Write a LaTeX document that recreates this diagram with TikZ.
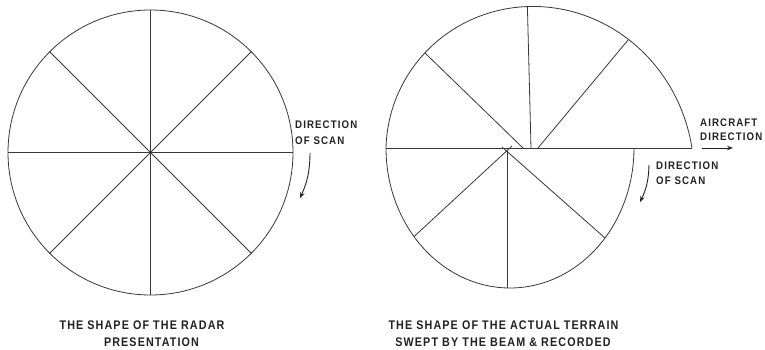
\documentclass[tikz,border=0pt]{standalone}
\usepackage{fontspec}
\setmainfont{Liberation Sans}
\newfontfamily\lblfont{Liberation Sans}[FakeStretch=0.88, LetterSpace=10]
\newfontfamily\capfont{Liberation Sans}[FakeStretch=0.86, LetterSpace=9]
\usetikzlibrary{arrows.meta}
\definecolor{ink}{HTML}{222222}
\definecolor{lineink}{HTML}{383838}
\begin{document}
\begin{tikzpicture}[x=1pt,y=-1pt,
  ln/.style={line width=0.8pt, draw=lineink},
  lbl/.style={font=\lblfont\bfseries\fontsize{11}{16}\selectfont, text=ink, align=left, inner sep=0pt},
  captext/.style={font=\capfont\bfseries\fontsize{12.5}{17}\selectfont, text=ink, inner sep=0pt},
  arr/.style={line width=0.9pt, draw=ink, -{Stealth[length=6pt,width=4.5pt]}},
  declare function={rr(\t)=134-2.5*((180-\t)/45)+3*((180-\t)/45)^2;}]
\useasboundingbox[fill=white] (0,0) rectangle (765,350);

% ---- left: radar presentation ----
\node[ln, circle, draw, minimum size=285pt, inner sep=0pt] (L) at (150.5,152.5) {};
\draw[ln] (L.north) -- (L.south);
\draw[ln] (L.east) -- (L.west);
\draw[ln] (L.45) -- (L.225);
\draw[ln] (L.135) -- (L.315);

\node[lbl, anchor=west] (ds1) at (295,133) {DIRECTION\\OF SCAN};
\coordinate (a1s) at (310,153);
\coordinate (a1e) at (300,198);
\draw[arr] (a1s) to[bend left=12] (a1e);

\node[captext] (cap1a) at (142,325) {THE SHAPE OF THE RADAR};
\node[captext] (cap1b) at (151.5,342) {PRESENTATION};

% ---- right: actual terrain ----
\draw[ln] plot[domain=180:0, samples=61, smooth] ({520+rr(\x)*cos(\x)},{148-rr(\x)*sin(\x)});
\draw[ln] plot[domain=0:180, samples=61, smooth] ({510+124*cos(\x)},{148+140*sin(\x)});

\coordinate (uW) at (386,148);
\coordinate (uE) at (692,148);
\coordinate (uNW) at (424.9,52.9);
\coordinate (uN) at (527.4,6.5);
\coordinate (uNE) at (628.5,39.5);
\coordinate (cNW) at (523,148);
\coordinate (cN) at (531,148);
\coordinate (cNE) at (538,148);
\coordinate (lSE) at (605,238);
\coordinate (lS) at (507,288);
\coordinate (lSW) at (414,236.6);
\coordinate (cS) at (507,150);
\coordinate (cSE) at (502,147);
\coordinate (cSW) at (512,146);

\draw[ln] (uW) -- (uE);
\draw[ln] (cNW) -- (uNW);
\draw[ln] (cN) -- (uN);
\draw[ln] (cNE) -- (uNE);
\draw[ln] (cS) -- (lS);
\draw[ln] (cSE) -- (lSE);
\draw[ln] (cSW) -- (lSW);

\node[lbl, anchor=west, font=\lblfont\bfseries\fontsize{11}{14}\selectfont] (ac) at (700,130) {AIRCRAFT\\DIRECTION};
\coordinate (a3s) at (702,148);
\coordinate (a3e) at (733,148);
\draw[arr] (a3s) -- (a3e);

\node[lbl, anchor=west, font=\lblfont\bfseries\fontsize{11}{15}\selectfont] (ds2) at (656,173.5) {DIRECTION\\OF SCAN};
\coordinate (a2s) at (649,165);
\coordinate (a2e) at (640,202);
\draw[arr] (a2s) to[bend left=12] (a2e);

\node[captext] (cap2a) at (503.5,325) {THE SHAPE OF THE ACTUAL TERRAIN};
\node[captext] (cap2b) at (503,342) {SWEPT BY THE BEAM \& RECORDED};
\end{tikzpicture}
\end{document}
